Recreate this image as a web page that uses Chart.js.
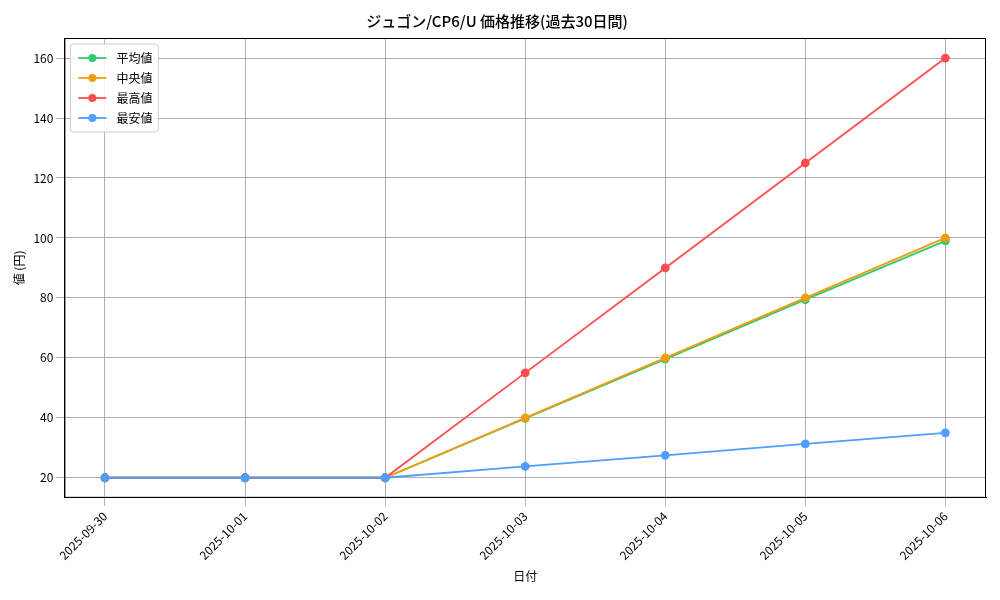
<!DOCTYPE html>
<html>
<head>
<meta charset="utf-8">
<script src="https://cdn.jsdelivr.net/npm/chart.js@4/dist/chart.umd.min.js"></script>
<style>
  body { margin: 0; background: #fff; }
  #wrap { width: 1000px; height: 600px; }
</style>
</head>
<body>
<div id="wrap"><canvas id="myChart"></canvas></div>
<script>
const dates = ["2025-09-30", "2025-10-01", "2025-10-02", "2025-10-03", "2025-10-04", "2025-10-05", "2025-10-06"];
const avgValues = [20, 20, 20, 39.8, 59.6, 79.4, 99];
const medianValues = [20, 20, 20, 40, 60, 80, 100];
const maxValues = [20, 20, 20, 55, 90, 125, 160];
const minValues = [20, 20, 20, 23.8, 27.5, 31.3, 35];

const font = "'Noto Sans CJK JP', 'DejaVu Sans Mono', monospace";
Chart.defaults.font.family = font;
Chart.defaults.color = "#000";

const toPoints = vals => vals.map((v, i) => ({ x: i, y: v }));
const series = (label, vals, color, order) => ({
  label,
  data: toPoints(vals),
  borderColor: color,
  backgroundColor: color,
  borderWidth: 1.8,
  pointRadius: 3.5,
  pointHoverRadius: 4,
  tension: 0,
  order
});

// frame around plot area + legend box in top-left
const framePlugin = {
  id: "frame",
  afterDatasetsDraw(chart) {
    const { ctx, chartArea: a } = chart;
    ctx.save();
    ctx.strokeStyle = "#000";
    ctx.lineWidth = 1;
    ctx.strokeRect(a.left + 0.5, a.top + 0.5, a.width - 1, a.height - 1);

    const sets = chart.data.datasets;
    const x0 = a.left + 6, y0 = a.top + 6, rowH = 20;
    ctx.font = "12px " + font;
    const w = 88, h = sets.length * rowH + 8;
    ctx.fillStyle = "rgba(255,255,255,0.85)";
    ctx.strokeStyle = "#ccc";
    ctx.beginPath();
    ctx.roundRect(x0, y0, w, h, 3);
    ctx.fill();
    ctx.stroke();
    sets.forEach((ds, i) => {
      const cy = y0 + 14 + i * rowH;
      ctx.strokeStyle = ds.borderColor;
      ctx.lineWidth = 1.8;
      ctx.beginPath();
      ctx.moveTo(x0 + 8, cy);
      ctx.lineTo(x0 + 36, cy);
      ctx.stroke();
      ctx.fillStyle = ds.borderColor;
      ctx.beginPath();
      ctx.arc(x0 + 22, cy, 4, 0, Math.PI * 2);
      ctx.fill();
      ctx.fillStyle = "#000";
      ctx.textBaseline = "middle";
      ctx.fillText(ds.label, x0 + 46, cy);
    });
    ctx.restore();
  }
};

const ctx = document.getElementById("myChart").getContext("2d");
new Chart(ctx, {
  type: "line",
  data: {
    datasets: [
      series("平均値", avgValues, "#2ecc71", 3),
      series("中央値", medianValues, "#f39c12", 2),
      series("最高値", maxValues, "#ff4d4d", 1),
      series("最安値", minValues, "#4d9eff", 0)
    ]
  },
  plugins: [framePlugin],
  options: {
    animation: false,
    responsive: true,
    maintainAspectRatio: false,
    layout: { padding: { left: 8, right: 14, top: 8, bottom: 12 } },
    plugins: {
      title: { display: true, text: "ジュゴン/CP6/U 価格推移(過去30日間)", font: { size: 15, weight: "500" }, padding: { top: 4, bottom: 8 } },
      legend: { display: false },
      tooltip: { enabled: false }
    },
    scales: {
      x: {
        type: "linear",
        min: -0.29,
        max: 6.29,
        title: { display: true, text: "日付", font: { size: 12 } },
        grid: { color: "#b0b0b0", drawTicks: true },
        border: { color: "#000" },
        afterBuildTicks: axis => { axis.ticks = dates.map((d, i) => ({ value: i })); },
        ticks: { callback: v => dates[v], maxRotation: 45, minRotation: 45, font: { size: 12 } }
      },
      y: {
        min: 13.3,
        max: 166.7,
        title: { display: true, text: "値 (円)", font: { size: 12 } },
        grid: { color: "#b0b0b0" },
        border: { color: "#000" },
        afterBuildTicks: axis => { axis.ticks = [20, 40, 60, 80, 100, 120, 140, 160].map(v => ({ value: v })); },
        ticks: { font: { size: 12 } }
      }
    }
  }
});
</script>
</body>
</html>
